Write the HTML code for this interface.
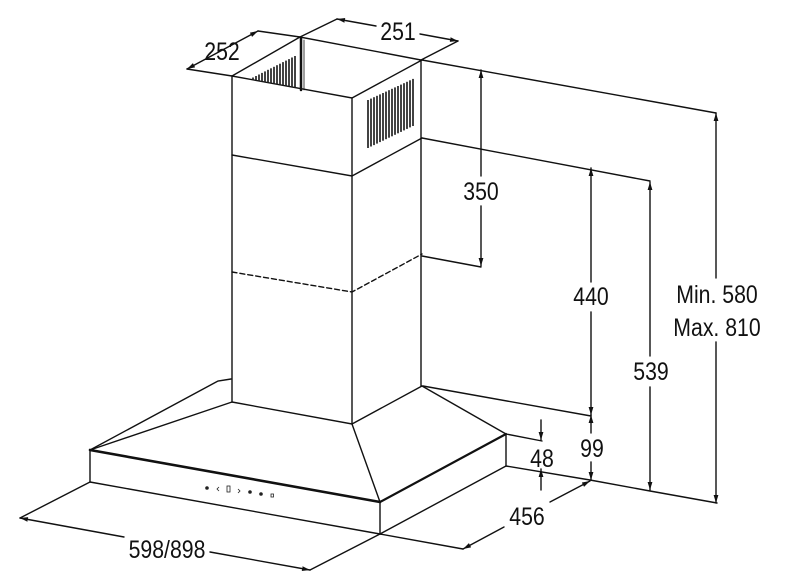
<!DOCTYPE html>
<html><head><meta charset="utf-8"><style>
html,body{margin:0;padding:0;background:#fff;}
svg{display:block;}
text{font-family:"Liberation Sans",Arial,sans-serif;font-size:25px;fill:#111;}
</style></head><body>
<svg width="788" height="587" viewBox="0 0 788 587" xmlns="http://www.w3.org/2000/svg">
<defs>
<marker id="a" viewBox="0 0 10 6" refX="10" refY="3" markerWidth="8" markerHeight="5" orient="auto-start-reverse" markerUnits="userSpaceOnUse">
<path d="M0,0 L10,3 L0,6 z" fill="#111"/></marker>
</defs>
<g stroke="#111" stroke-width="1.4" fill="none" stroke-linecap="round">
<polyline points="232,402 232,76 352,98 422,60"/>
<polyline points="232,76 300,37 421,60 421,386"/>
<line x1="352" y1="98" x2="352" y2="424"/>
<line x1="301" y1="38" x2="301" y2="90" stroke-width="2.5"/>
<line x1="304" y1="40" x2="304" y2="90" stroke-width="0.8"/>
<polyline points="232,155 352,176 422,138"/>
<polyline points="232,272 352,292 422,254" stroke-dasharray="5,3"/>
<polyline points="232,402 352,424 422,386"/>
<polyline points="90,450 218,381 231,379"/>
<line x1="90" y1="450" x2="232" y2="402"/>
<line x1="352" y1="424" x2="380" y2="502"/>
<line x1="422" y1="386" x2="506" y2="434"/>
<line x1="90" y1="450" x2="380" y2="502" stroke-width="2.6"/>
<line x1="380" y1="502" x2="506" y2="434" stroke-width="2.2"/>
<line x1="90" y1="450" x2="90" y2="482"/>
<line x1="380" y1="502" x2="380" y2="534"/>
<line x1="506" y1="434" x2="506" y2="466"/>
<line x1="90" y1="482" x2="380" y2="534"/>
<line x1="380" y1="534" x2="506" y2="466"/>
<polyline points="506,466 590,480 650,491 717,503"/>
<line x1="423" y1="386" x2="591" y2="416"/>
<line x1="422" y1="60" x2="716" y2="113"/>
<line x1="422" y1="138" x2="650" y2="181"/>
<line x1="422" y1="256" x2="481" y2="267"/>
<line x1="506" y1="434" x2="542" y2="441"/>
<line x1="187" y1="69" x2="232" y2="76"/>
<line x1="258" y1="31" x2="300" y2="37"/>
<line x1="187" y1="69" x2="258" y2="31" marker-start="url(#a)" marker-end="url(#a)"/>
<line x1="300" y1="37" x2="337" y2="19"/>
<line x1="421" y1="60" x2="458" y2="41"/>
<line x1="337" y1="19" x2="376" y2="26" marker-start="url(#a)"/>
<line x1="420" y1="34" x2="458" y2="41" marker-end="url(#a)"/>
<line x1="481" y1="70" x2="481" y2="176" marker-start="url(#a)"/>
<line x1="481" y1="206" x2="481" y2="266" marker-end="url(#a)"/>
<line x1="591" y1="168" x2="591" y2="282" marker-start="url(#a)"/>
<line x1="591" y1="312" x2="591" y2="415" marker-end="url(#a)"/>
<line x1="591" y1="415" x2="591" y2="433" marker-start="url(#a)"/>
<line x1="591" y1="462" x2="591" y2="480" marker-end="url(#a)"/>
<line x1="650" y1="182" x2="650" y2="356" marker-start="url(#a)"/>
<line x1="650" y1="387" x2="650" y2="490" marker-end="url(#a)"/>
<line x1="716" y1="113" x2="716" y2="278" marker-start="url(#a)"/>
<line x1="716" y1="342" x2="716" y2="503" marker-end="url(#a)"/>
<line x1="541" y1="420" x2="541" y2="440" marker-end="url(#a)"/>
<line x1="541" y1="490" x2="541" y2="469" marker-end="url(#a)"/>
<line x1="380" y1="534" x2="463" y2="549"/>
<line x1="463" y1="549" x2="504" y2="527" marker-start="url(#a)"/>
<line x1="550" y1="502" x2="590" y2="481" marker-end="url(#a)"/>
<line x1="90" y1="482" x2="20" y2="518"/>
<line x1="380" y1="534" x2="310" y2="570"/>
<line x1="20" y1="518" x2="124" y2="537" marker-start="url(#a)"/>
<line x1="210" y1="552" x2="310" y2="570" marker-end="url(#a)"/>
</g>
<g stroke="#222" stroke-width="1.7">
<line x1="253" y1="77.5" x2="253" y2="79.9"/><line x1="256" y1="76" x2="256" y2="80.4"/><line x1="259" y1="74.5" x2="259" y2="81"/><line x1="262" y1="72.9" x2="262" y2="81.5"/><line x1="265" y1="71.4" x2="265" y2="82.1"/><line x1="268" y1="69.8" x2="268" y2="82.6"/><line x1="271" y1="68.3" x2="271" y2="83.2"/><line x1="274" y1="66.8" x2="274" y2="83.7"/><line x1="277" y1="65.2" x2="277" y2="84.3"/><line x1="280" y1="63.7" x2="280" y2="84.8"/><line x1="283" y1="62.1" x2="283" y2="85.4"/><line x1="286" y1="60.6" x2="286" y2="85.9"/><line x1="289" y1="59.1" x2="289" y2="86.5"/><line x1="292" y1="57.5" x2="292" y2="87"/><line x1="295" y1="56" x2="295" y2="87.6"/>
<line x1="368" y1="100" x2="368" y2="148"/><line x1="371" y1="98.6" x2="371" y2="146.5"/><line x1="374" y1="97.2" x2="374" y2="145.1"/><line x1="377" y1="95.8" x2="377" y2="143.6"/><line x1="380" y1="94.4" x2="380" y2="142.1"/><line x1="383" y1="93" x2="383" y2="140.7"/><line x1="386" y1="91.6" x2="386" y2="139.2"/><line x1="389" y1="90.2" x2="389" y2="137.7"/><line x1="392" y1="88.8" x2="392" y2="136.3"/><line x1="395" y1="87.4" x2="395" y2="134.8"/><line x1="398" y1="86" x2="398" y2="133.3"/><line x1="401" y1="84.6" x2="401" y2="131.9"/><line x1="404" y1="83.2" x2="404" y2="130.4"/><line x1="407" y1="81.8" x2="407" y2="128.9"/><line x1="410" y1="80.3" x2="410" y2="127.4"/><line x1="413" y1="78.9" x2="413" y2="126"/>
</g>
<g fill="#222" stroke="#222" stroke-width="0.8">
<circle cx="207" cy="488" r="1.4"/>
<path d="M219,487 l-2,2 l2,2" fill="none"/>
<rect x="227" y="486" width="3" height="6" fill="none"/>
<path d="M238,489 l2,2 l-2,2" fill="none"/>
<circle cx="250" cy="492" r="1.4"/>
<circle cx="261" cy="494" r="1.4"/>
<rect x="271" y="494" width="2.5" height="3" fill="none"/>
</g>
<g>
<text x="222" y="60" text-anchor="middle" transform="translate(222 0) scale(0.85 1) translate(-222 0)">252</text>
<text x="398" y="40" text-anchor="middle" transform="translate(398 0) scale(0.85 1) translate(-398 0)">251</text>
<text x="481" y="200" text-anchor="middle" transform="translate(481 0) scale(0.85 1) translate(-481 0)">350</text>
<text x="591" y="305" text-anchor="middle" transform="translate(591 0) scale(0.85 1) translate(-591 0)">440</text>
<text x="651" y="380" text-anchor="middle" transform="translate(651 0) scale(0.85 1) translate(-651 0)">539</text>
<text x="717" y="303" text-anchor="middle" transform="translate(717 0) scale(0.85 1) translate(-717 0)">Min. 580</text>
<text x="717" y="336" text-anchor="middle" transform="translate(717 0) scale(0.85 1) translate(-717 0)">Max. 810</text>
<text x="542" y="467" text-anchor="middle" transform="translate(542 0) scale(0.85 1) translate(-542 0)">48</text>
<text x="592" y="457" text-anchor="middle" transform="translate(592 0) scale(0.85 1) translate(-592 0)">99</text>
<text x="527" y="525" text-anchor="middle" transform="translate(527 0) scale(0.85 1) translate(-527 0)">456</text>
<text x="167" y="558" text-anchor="middle" transform="translate(167 0) scale(0.85 1) translate(-167 0)">598/898</text>
</g>
</svg>
</body></html>
